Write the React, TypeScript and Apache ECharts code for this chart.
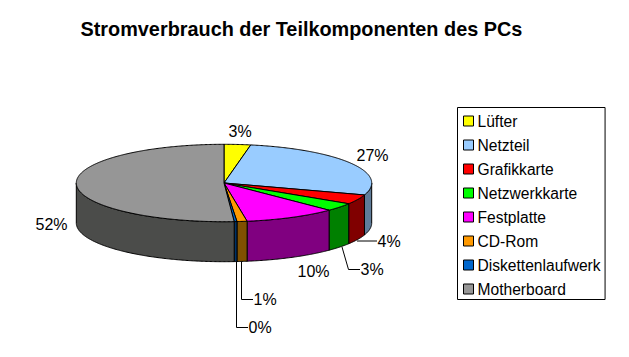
import React, { useEffect, useRef } from "react";
import * as echarts from "echarts";

const titleText = "Stromverbrauch der Teilkomponenten des PCs";
const categories = ["Lüfter", "Netzteil", "Grafikkarte", "Netzwerkkarte", "Festplatte", "CD-Rom", "Diskettenlaufwerk", "Motherboard"];
const values = [2.9, 27.1, 4, 3.4, 10.1, 1.1, 0.3, 51.1];
const percentLabels = ["3%", "27%", "4%", "3%", "10%", "1%", "0%", "52%"];
const topColors = ["#FFFF00", "#99CCFF", "#FF0000", "#00FF00", "#FF00FF", "#FF9900", "#0066CC", "#969696"];
const wallColors = ["#808000", "#5F7C99", "#800000", "#008000", "#800080", "#805000", "#003366", "#4B4C4A"];

// label anchors: [x of left text edge, y of text middle]
const labelAt = [[228.5, 131], [356.5, 155], [377.5, 241], [360.5, 269], [297.5, 271], [253.5, 299], [248.5, 327], [35.5, 224]];
const leaderLines: number[][][] = [
  [], [],
  [[357, 241], [377, 241]],
  [[342, 247], [348.5, 269.5], [360, 269.5]],
  [],
  [[241.5, 262], [241.5, 299.5], [253, 299.5]],
  [[236.5, 262], [236.5, 327.5], [248, 327.5]],
  [],
];

const CX = 224;
const CY = 183;
const RX = 147.7;
const RY = 38.7;
const DEPTH = 40;
const total = values.reduce((a, b) => a + b, 0);

function rim(deg: number, dy = 0): number[] {
  const t = (deg * Math.PI) / 180;
  return [CX + RX * Math.sin(t), CY - RY * Math.cos(t) + dy];
}
function arc(from: number, to: number, dy = 0): number[][] {
  const pts: number[][] = [];
  const n = Math.max(2, Math.ceil((to - from) * 2));
  for (let i = 0; i <= n; i++) pts.push(rim(from + ((to - from) * i) / n, dy));
  return pts;
}

const font = "16px 'Liberation Sans', Arial, sans-serif";

function makeSeries(i: number) {
  const before = values.slice(0, i).reduce((a, b) => a + b, 0);
  const start = (before / total) * 360;
  const end = ((before + values[i]) / total) * 360;
  return {
    type: "custom",
    name: categories[i],
    coordinateSystem: "none",
    itemStyle: { color: topColors[i] },
    data: [[values[i]]],
    silent: true,
    renderItem: () => {
      const children: any[] = [];
      const a = Math.max(start, 90);
      const b = Math.min(end, 270);
      if (b > a) {
        const upper = arc(a, b);
        const lower = arc(a, b, DEPTH).reverse();
        children.push({
          type: "polygon",
          shape: { points: upper.concat(lower) },
          style: { fill: wallColors[i], stroke: "#000", lineWidth: 1 },
        });
      }
      children.push({
        type: "polygon",
        shape: { points: [[CX, CY] as number[]].concat(arc(start, end)) },
        style: { fill: topColors[i], stroke: "#000", lineWidth: 1, lineJoin: "round" },
      });
      if (leaderLines[i].length) {
        children.push({
          type: "polyline",
          shape: { points: leaderLines[i] },
          style: { fill: "none", stroke: "#000", lineWidth: 1 },
        });
      }
      children.push({
        type: "text",
        style: {
          text: percentLabels[i],
          x: labelAt[i][0],
          y: labelAt[i][1],
          fill: "#000",
          font,
          align: "left",
          verticalAlign: "middle",
        },
      });
      return { type: "group", children };
    },
  };
}

export default function App() {
  const ref = useRef<HTMLDivElement>(null);
  useEffect(() => {
    const chart = echarts.init(ref.current!, null, { renderer: "svg" });
    chart.setOption({
      animation: false,
      backgroundColor: "#fff",
      title: {
        text: titleText,
        left: 80.5,
        top: 19,
        padding: 0,
        textStyle: { color: "#000", fontWeight: "bold", fontSize: 19.85, fontFamily: "'Liberation Sans', Arial, sans-serif" },
      },
      legend: {
        orient: "vertical",
        left: 457.5,
        top: 107.5,
        padding: [5, 4.5, 2, 5.5],
        itemWidth: 10,
        itemHeight: 10,
        itemGap: 7,
        icon: "rect",
        borderColor: "#000",
        borderWidth: 1,
        backgroundColor: "#fff",
        selectedMode: false,
        data: categories,
        itemStyle: { borderColor: "#000", borderWidth: 1 },
        textStyle: { color: "#000", fontSize: 15.6, height: 17, lineHeight: 17, padding: [0, 0, 0, -1], fontFamily: "'Liberation Sans', Arial, sans-serif" },
      },
      series: categories.map((_, i) => makeSeries(i)),
    });
    return () => chart.dispose();
  }, []);
  return <div ref={ref} style={{ position: "absolute", left: 0, top: 0, width: 629, height: 357 }} />;
}
